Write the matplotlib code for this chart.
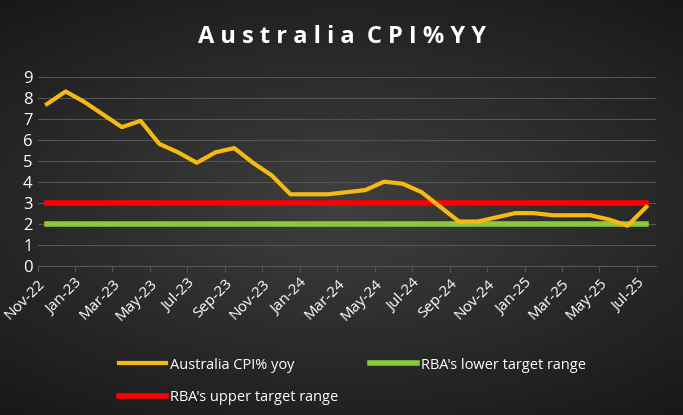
import numpy as np
import matplotlib.pyplot as plt

months = ['Nov-22', 'Dec-22', 'Jan-23', 'Feb-23', 'Mar-23', 'Apr-23', 'May-23', 'Jun-23',
          'Jul-23', 'Aug-23', 'Sep-23', 'Oct-23', 'Nov-23', 'Dec-23', 'Jan-24', 'Feb-24',
          'Mar-24', 'Apr-24', 'May-24', 'Jun-24', 'Jul-24', 'Aug-24', 'Sep-24', 'Oct-24',
          'Nov-24', 'Dec-24', 'Jan-25', 'Feb-25', 'Mar-25', 'Apr-25', 'May-25', 'Jun-25', 'Jul-25']
cpi = [7.7, 8.3, 7.8, 7.2, 6.6, 6.9, 5.8, 5.4, 4.9, 5.4, 5.6, 4.9, 4.3, 3.4, 3.4, 3.4,
       3.5, 3.6, 4.0, 3.9, 3.5, 2.8, 2.1, 2.1, 2.3, 2.5, 2.5, 2.4, 2.4, 2.4, 2.2, 1.9, 2.8]
lower = [2] * len(months)
upper = [3] * len(months)

fig = plt.figure(figsize=(6.83, 4.15), dpi=100, facecolor='#262626')
# dark radial gradient background
bg = fig.add_axes([0, 0, 1, 1], zorder=-1)
yy, xx = np.mgrid[-1:1:200j, -1:1:300j]
r = np.sqrt(xx**2 * 0.7 + yy**2)
bg.imshow(0.25 - 0.12 * r, cmap='gray', vmin=0, vmax=1,
          aspect='auto', extent=[0, 1, 0, 1])
bg.axis('off')

ax = fig.add_axes([0.055, 0.36, 0.905, 0.455])
ax.patch.set_alpha(0)
x = np.arange(len(months))
ax.plot(x, cpi, color='#f5b914', lw=3, label='Australia CPI% yoy', zorder=4)
ax.plot(x, lower, color='#8cc83c', lw=4, label="RBA's lower target range", zorder=3)
ax.plot(x, upper, color='#ff0000', lw=4, label="RBA's upper target range", zorder=3)

ax.set_xlim(-0.5, len(months) - 0.5)
ax.set_ylim(0, 9)
ax.set_yticks(range(10))
ax.set_xticks(np.arange(0, len(months), 2) - 0.5)
ax.set_xticklabels(months[::2], rotation=45, ha='right', rotation_mode='anchor')
ax.grid(axis='y', color='#555555', lw=0.8)
for s in ['top', 'right', 'left']:
    ax.spines[s].set_visible(False)
ax.spines['bottom'].set_color('#555555')
ax.tick_params(axis='x', colors='#555555', labelcolor='white', labelsize=11, length=4)
ax.tick_params(axis='y', length=0, labelcolor='white', labelsize=12)
for lab in ax.get_xticklabels() + ax.get_yticklabels():
    lab.set_family('Open Sans')

fig.text(0.5, 0.91, 'A u s t r a l i a   C P I % Y Y'.replace('   ', '  '), color='white',
         fontsize=17, fontweight='bold', ha='center', va='center', family='Open Sans')

h, l = ax.get_legend_handles_labels()
leg = fig.legend([h[0], h[2], h[1]], [l[0], l[2], l[1]], loc='upper left',
                 bbox_to_anchor=(0.155, 0.17), ncol=2, frameon=False, columnspacing=2.2,
                 handlelength=3.2, handletextpad=0.3, labelspacing=1.2,
                 prop={'family': 'Open Sans', 'size': 10.5})
for t in leg.get_texts():
    t.set_color('white')

fig.savefig('out.png', dpi=100, facecolor=fig.get_facecolor())
